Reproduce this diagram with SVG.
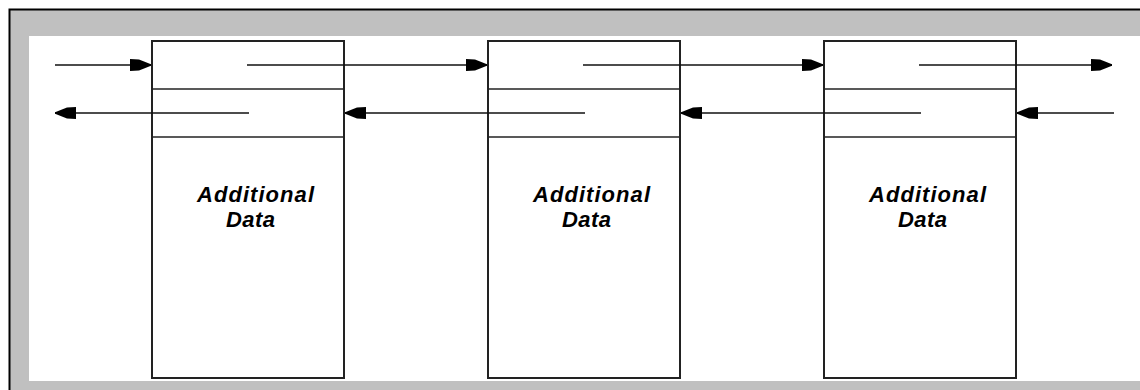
<svg xmlns="http://www.w3.org/2000/svg" width="1140" height="390" viewBox="0 0 1140 390">
  <style>
    .box { fill: #ffffff; stroke: #222; stroke-width: 2; }
    .div { stroke: #222; stroke-width: 1.6; }
    .conn { stroke: #111; stroke-width: 1.6; fill: none; marker-end: url(#head); }
    .lbl { font-family: "Liberation Sans", Arial, sans-serif; font-weight: bold; font-style: italic; font-size: 22px; fill: #000; }
  </style>
  <defs>
    <marker id="head" viewBox="0 0 21 14" refX="21" refY="7" markerWidth="21" markerHeight="14" markerUnits="userSpaceOnUse" orient="auto">
      <path d="M0,1 L9,1.5 L21,6.2 L21,7.8 L9,12.5 L0,13 Z" fill="#000"/>
    </marker>
  </defs>
  <!-- frame -->
  <rect x="0" y="0" width="1140" height="390" fill="#ffffff"/>
  <rect x="10" y="10" width="1130" height="380" fill="#c0c0c0"/>
  <rect x="29" y="36" width="1111" height="345" fill="#ffffff"/>
  <path d="M9.5,390 L9.5,9.5 L1140,9.5" fill="none" stroke="#000" stroke-width="2"/>

  <g id="node1">
    <rect class="box" x="152" y="41" width="192" height="337"/>
    <line class="div" x1="152" y1="89" x2="344" y2="89"/>
    <line class="div" x1="152" y1="137" x2="344" y2="137"/>
    <text class="lbl" x="197" y="202" textLength="117" lengthAdjust="spacing">Additional</text>
    <text class="lbl" x="226" y="227" textLength="49" lengthAdjust="spacing">Data</text>
  </g>
  <g id="node2">
    <rect class="box" x="488" y="41" width="192" height="337"/>
    <line class="div" x1="488" y1="89" x2="680" y2="89"/>
    <line class="div" x1="488" y1="137" x2="680" y2="137"/>
    <text class="lbl" x="533" y="202" textLength="117" lengthAdjust="spacing">Additional</text>
    <text class="lbl" x="562" y="227" textLength="49" lengthAdjust="spacing">Data</text>
  </g>
  <g id="node3">
    <rect class="box" x="824" y="41" width="192" height="337"/>
    <line class="div" x1="824" y1="89" x2="1016" y2="89"/>
    <line class="div" x1="824" y1="137" x2="1016" y2="137"/>
    <text class="lbl" x="869" y="202" textLength="117" lengthAdjust="spacing">Additional</text>
    <text class="lbl" x="898" y="227" textLength="49" lengthAdjust="spacing">Data</text>
  </g>

  <g id="connectors">
    <line class="conn" x1="55" y1="65" x2="151" y2="65"/>
    <line class="conn" x1="247" y1="65" x2="487" y2="65"/>
    <line class="conn" x1="583" y1="65" x2="823" y2="65"/>
    <line class="conn" x1="919" y1="65" x2="1112" y2="65"/>
    <line class="conn" x1="249" y1="113" x2="55" y2="113"/>
    <line class="conn" x1="585" y1="113" x2="345" y2="113"/>
    <line class="conn" x1="921" y1="113" x2="681" y2="113"/>
    <line class="conn" x1="1114" y1="113" x2="1017" y2="113"/>
  </g>
</svg>
